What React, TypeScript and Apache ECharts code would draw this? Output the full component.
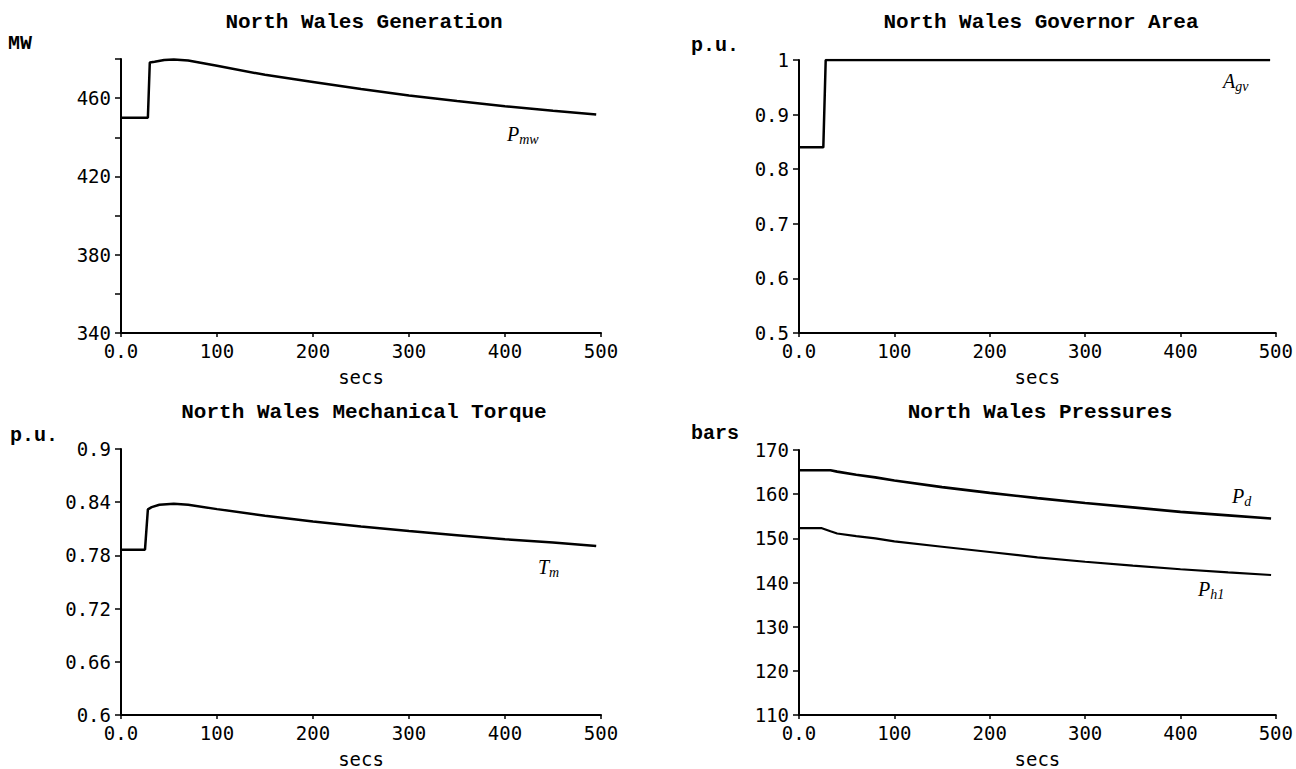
import React, { useEffect, useRef } from "react";
import * as echarts from "echarts";

// ---------------- data ----------------
const genTime = [0, 28, 30, 35, 45, 55, 70, 100, 150, 200, 250, 300, 350, 400, 450, 495];
const genMW = [450, 450, 478.2, 478.6, 479.5, 479.8, 479.2, 476.5, 471.9, 468.3, 464.7, 461.4, 458.5, 455.9, 453.6, 451.6];

const govTime = [0, 25.5, 28, 494];
const govArea = [0.84, 0.84, 1.0, 1.0];

const torqueTime = [0, 25, 28, 32, 40, 55, 70, 100, 150, 200, 250, 300, 350, 400, 450, 495];
const torqueTm = [0.7865, 0.7865, 0.832, 0.8345, 0.8372, 0.8382, 0.8372, 0.8322, 0.8247, 0.8183, 0.8125, 0.8075, 0.8028, 0.7982, 0.7945, 0.7905];

const pressTime = [0, 24, 33, 40, 60, 80, 100, 150, 200, 250, 300, 350, 400, 450, 495];
const pressPd = [165.4, 165.4, 165.4, 165.1, 164.4, 163.8, 163.1, 161.6, 160.3, 159.1, 158.0, 157.0, 156.0, 155.2, 154.5];
const pressPh1 = [152.3, 152.3, 151.6, 151.1, 150.5, 150.0, 149.3, 148.1, 146.9, 145.7, 144.7, 143.8, 143.0, 142.3, 141.7];

const xRange = { min: 0, max: 500, interval: 100 };
const genRange = { min: 340, max: 480, interval: 20, labelStep: 40 };
const govRange = { min: 0.5, max: 1, interval: 0.1 };
const torqueRange = { min: 0.6, max: 0.9, interval: 0.06 };
const pressRange = { min: 110, max: 170, interval: 10 };

const titles = [
  "North Wales Generation",
  "North Wales Governor Area",
  "North Wales Mechanical Torque",
  "North Wales Pressures",
];
const units = ["MW", "p.u.", "p.u.", "bars"];

// ---------------- styling ----------------
const MONO = "'DejaVu Sans Mono', monospace";
const TITLE_FONT = "'Liberation Mono', 'DejaVu Sans Mono', monospace";
const MATH_FONT = "'Liberation Serif', 'DejaVu Serif', serif";

const grids = [
  { left: 121, top: 59, width: 480, height: 274 },
  { left: 799, top: 60, width: 477, height: 273 },
  { left: 121, top: 449, width: 480, height: 268 },
  { left: 799, top: 450, width: 478, height: 267 },
];

const zip = (xs: number[], ys: number[]) => xs.map((x, i) => [x, ys[i]]);

function xAxisFor(gridIndex: number) {
  return {
    type: "value",
    gridIndex,
    min: xRange.min,
    max: xRange.max,
    interval: xRange.interval,
    name: "secs",
    nameLocation: "middle",
    nameGap: 34,
    nameTextStyle: { fontFamily: MONO, fontSize: 19, color: "#000" },
    axisLine: { show: true, onZero: false, lineStyle: { color: "#000", width: 2 } },
    axisTick: { show: true, length: 4, lineStyle: { color: "#000", width: 1.5 } },
    axisLabel: {
      margin: 8,
      fontFamily: MONO,
      fontSize: 19,
      color: "#000",
      formatter: (v: number) => (v === 0 ? "0.0" : String(v)),
    },
    splitLine: { show: false },
  };
}

function yAxisFor(gridIndex: number, r: any, formatter: (v: number) => string) {
  return {
    type: "value",
    gridIndex,
    min: r.min,
    max: r.max,
    interval: r.interval,
    axisLine: { show: true, onZero: false, lineStyle: { color: "#000", width: 2 } },
    axisTick: { show: true, length: 6, lineStyle: { color: "#000", width: 1.5 } },
    axisLabel: { margin: 10, fontFamily: MONO, fontSize: 19, color: "#000", formatter },
    splitLine: { show: false },
  };
}

function lineSeries(idx: number, data: number[][], width = 2.5) {
  return {
    type: "line",
    xAxisIndex: idx,
    yAxisIndex: idx,
    data,
    symbol: "none",
    showSymbol: false,
    lineStyle: { color: "#000", width },
    silent: true,
  };
}

function titleText(text: string, x: number, y: number) {
  return {
    type: "text",
    x,
    y,
    style: {
      text,
      fontFamily: TITLE_FONT,
      fontSize: 21,
      fontWeight: "bold",
      fill: "#000",
      align: "center",
      verticalAlign: "middle",
      textAlign: "center",
      textVerticalAlign: "middle",
    },
  };
}

function unitText(text: string, x: number, y: number) {
  return {
    type: "text",
    x,
    y,
    style: {
      text,
      fontFamily: TITLE_FONT,
      fontSize: 20,
      fontWeight: "bold",
      fill: "#000",
      align: "left",
      verticalAlign: "middle",
      textAlign: "left",
      textVerticalAlign: "middle",
    },
  };
}

function mathLabel(main: string, sub: string, x: number, y: number) {
  return {
    type: "text",
    x,
    y,
    style: {
      text: `{a|${main}}{b|${sub}}`,
      align: "left",
      verticalAlign: "top",
      textAlign: "left",
      textVerticalAlign: "top",
      rich: {
        a: {
          fontFamily: MATH_FONT,
          fontStyle: "italic",
          fontSize: 20,
          fill: "#000",
          color: "#000",
          padding: [0, 0, 2, 0],
          verticalAlign: "top",
        },
        b: {
          fontFamily: MATH_FONT,
          fontStyle: "italic",
          fontSize: 14,
          fill: "#000",
          color: "#000",
          verticalAlign: "bottom",
        },
      },
    },
  };
}

export default function App() {
  const ref = useRef<HTMLDivElement>(null);

  useEffect(() => {
    if (!ref.current) return;
    const chart = echarts.init(ref.current, undefined, { renderer: "svg" });

    const option: any = {
      animation: false,
      backgroundColor: "#fff",
      grid: grids.map((g) => ({ ...g, containLabel: false })),
      xAxis: [0, 1, 2, 3].map((i) => xAxisFor(i)),
      yAxis: [
        yAxisFor(0, genRange, (v: number) =>
          Math.round(v - genRange.min) % genRange.labelStep === 0 && v < genRange.max ? String(v) : ""
        ),
        yAxisFor(1, govRange, (v: number) => String(Number(v.toFixed(1)))),
        yAxisFor(2, torqueRange, (v: number) => String(Number(v.toFixed(2)))),
        yAxisFor(3, pressRange, (v: number) => String(v)),
      ],
      series: [
        lineSeries(0, zip(genTime, genMW)),
        lineSeries(1, zip(govTime, govArea)),
        lineSeries(2, zip(torqueTime, torqueTm)),
        lineSeries(3, zip(pressTime, pressPd), 2.6),
        lineSeries(3, zip(pressTime, pressPh1), 2.2),
      ],
      graphic: {
        elements: [
          titleText(titles[0], 364, 22),
          titleText(titles[1], 1041, 22),
          titleText(titles[2], 364, 412),
          titleText(titles[3], 1040, 412),
          unitText(units[0], 8, 43),
          unitText(units[1], 691, 45),
          unitText(units[2], 10, 435),
          unitText(units[3], 691, 433),
          mathLabel("P", "mw", 507, 124),
          mathLabel("A", "gv", 1223, 71),
          mathLabel("T", "m", 538, 557),
          mathLabel("P", "d", 1232, 486),
          mathLabel("P", "h1", 1198, 579),
        ],
      },
    };

    chart.setOption(option);
    return () => chart.dispose();
  }, []);

  return (
    <div
      ref={ref}
      style={{ position: "fixed", left: 0, top: 0, width: 1296, height: 769, background: "#fff" }}
    />
  );
}
